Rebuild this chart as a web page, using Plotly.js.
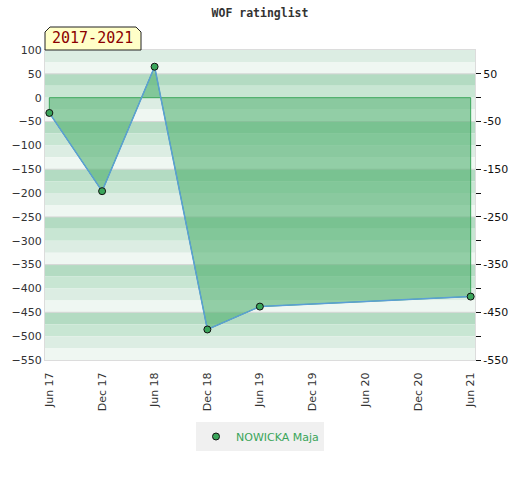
<!DOCTYPE html>
<html>
<head>
<meta charset="utf-8">
<script src="https://cdn.plot.ly/plotly-3.0.1.min.js"></script>
<style>html,body{margin:0;padding:0;background:#fff;}#chart{width:520px;height:480px;}</style>
</head>
<body>
<div id="chart"></div>
<script>
var dates = ["2017-06-01", "2017-12-01", "2018-06-01", "2018-12-01", "2019-06-01", "2021-06-01"];
var ratings = [-32, -196, 65, -486, -438, -417];
var seriesName = "NOWICKA Maja";
var chartTitle = "WOF ratinglist";
var periodLabel = "2017-2021";
var leftTicks = [100, 50, 0, -50, -100, -150, -200, -250, -300, -350, -400, -450, -500, -550];
var rightTicks = [50, 0, -50, -100, -150, -200, -250, -300, -350, -400, -450, -500, -550];
var rightLabels = ["50", "", "-50", "", "-150", "", "-250", "", "-350", "", "-450", "", "-550"];
var xTicks = ["2017-06-01", "2017-12-01", "2018-06-01", "2018-12-01", "2019-06-01", "2019-12-01", "2020-06-01", "2020-12-01", "2021-06-01"];
var yMin = -550, yMax = 100;
var bandColors = ["#dcede3", "#eff7f2", "#b3dbc2", "#c8e6d3"];

var shapes = [];
var k = 0;
for (var v = yMax; v > yMin; v -= 25, k++) {
  shapes.push({type: "rect", xref: "paper", yref: "y", x0: 0, x1: 1, y0: v - 25, y1: v,
    fillcolor: bandColors[k % 4], line: {width: 0}, layer: "below"});
}
for (var g = 50; g > yMin; g -= 100) {
  shapes.push({type: "line", xref: "paper", yref: "y", x0: 0, x1: 1, y0: g, y1: g,
    line: {color: "#d6d6d6", width: 1}, layer: "below"});
}
// period label tab
shapes.push({type: "path", xref: "paper", yref: "paper", xsizemode: "pixel", ysizemode: "pixel",
  xanchor: 0, yanchor: 1,
  path: "M 0 0 L 0 18 L 5 23 L 91 23 L 96 18 L 96 0 Z",
  fillcolor: "#ffffc8", line: {color: "#222", width: 1}, layer: "above"});

var polyX = [dates[0]].concat(dates).concat([dates[dates.length - 1], dates[0]]);
var polyY = [0].concat(ratings).concat([0, 0]);

var traces = [
  {x: polyX, y: polyY, type: "scatter", mode: "lines", fill: "toself",
   fillcolor: "rgba(79,176,110,0.58)", line: {color: "#3aa55a", width: 1},
   hoverinfo: "skip", showlegend: false},
  {x: dates, y: ratings, type: "scatter", mode: "lines", showlegend: false,
   line: {color: "#5b9fd6", width: 1.5}},
  {x: dates, y: ratings, type: "scatter", mode: "markers", name: seriesName,
   marker: {color: "#3aa55a", size: 7, line: {color: "#111", width: 1}}},
  {x: [dates[0]], y: [ratings[0]], yaxis: "y2", type: "scatter", mode: "markers",
   marker: {opacity: 0}, showlegend: false, hoverinfo: "skip"}
];

var layout = {
  width: 520, height: 480,
  margin: {l: 45, r: 45, t: 50, b: 120},
  paper_bgcolor: "#ffffff", plot_bgcolor: "#ffffff",
  font: {family: "DejaVu Sans", size: 11, color: "#333"},
  title: {text: chartTitle, x: 0.5, xanchor: "center", y: 0.972, yanchor: "middle",
    font: {family: "DejaVu Sans Mono", size: 11.5, color: "#333", weight: "bold"}},
  showlegend: true,
  legend: {orientation: "h", x: 0.5, xanchor: "center", y: -0.2, yanchor: "top",
    bgcolor: "#f0f0f0", font: {color: "#3aa55a", size: 11}, itemwidth: 30},
  xaxis: {type: "date", range: ["2017-05-17", "2021-06-16"], tickvals: xTicks,
    tickformat: "%b %y", tickangle: -90, showgrid: false, zeroline: false,
    showline: true, linecolor: "#dcdcdc", mirror: true, ticks: "", ticklabelstandoff: 7},
  yaxis: {range: [yMin, yMax], tickvals: leftTicks, showgrid: false, zeroline: false,
    showline: true, linecolor: "#dcdcdc", mirror: true, ticks: "", ticklen: 0},
  yaxis2: {range: [yMin, yMax], overlaying: "y", side: "right", tickvals: rightTicks,
    ticktext: rightLabels, ticks: "outside", ticklen: 5, tickcolor: "#111",
    tickfont: {color: "#111"},
    showgrid: false, zeroline: false, showline: false},
  shapes: shapes,
  annotations: [{text: periodLabel, xref: "paper", yref: "paper", x: 0, y: 1,
    xanchor: "left", yanchor: "bottom", xshift: 5, yshift: 1, showarrow: false,
    font: {family: "DejaVu Sans Mono", size: 15, color: "#8b0000"}}]
};

Plotly.newPlot("chart", traces, layout, {displayModeBar: false, staticPlot: true});
</script>
</body>
</html>
